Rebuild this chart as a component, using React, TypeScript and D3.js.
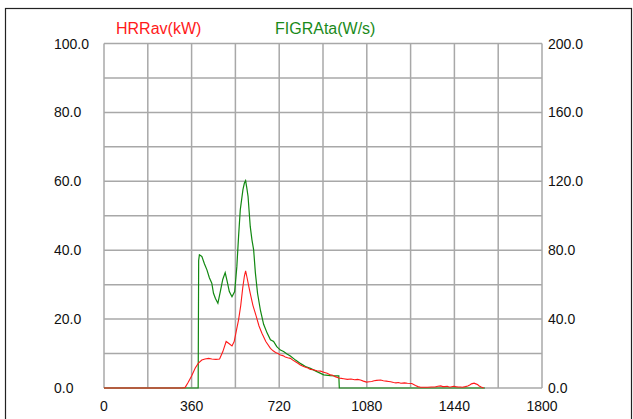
import React from "react";
import * as d3 from "d3";

const xTicks = [0, 360, 720, 1080, 1440, 1800];
const leftTicks = [0, 20, 40, 60, 80, 100];
const rightTicks = [0, 40, 80, 120, 160, 200];

const hrrTime = [0, 320, 333, 345, 360, 375, 388, 402, 415, 430, 443, 460, 475, 488, 502, 512, 526, 535, 545, 553, 562, 570, 577, 582, 588, 595, 601, 612, 626, 637, 649, 665, 684, 695, 705, 715, 725, 735, 745, 755, 766, 776, 787, 797, 807, 818, 828, 838, 848, 860, 875, 890, 903, 917, 931, 940, 950, 965, 975, 985, 1000, 1015, 1030, 1042, 1054, 1066, 1079, 1090, 1100, 1110, 1120, 1137, 1148, 1160, 1170, 1178, 1190, 1200, 1210, 1220, 1235, 1247, 1265, 1280, 1290, 1301, 1315, 1330, 1345, 1360, 1372, 1384, 1392, 1400, 1411, 1418, 1425, 1437, 1445, 1455, 1465, 1473, 1485, 1495, 1503, 1510, 1521, 1528, 1535, 1542, 1550, 1560];
const hrrValue = [0, 0, 0.1, 1.5, 3.5, 5.8, 7.2, 8.1, 8.4, 8.6, 8.4, 8.3, 8.4, 10.5, 13.5, 13.0, 12.2, 13.5, 17, 19.8, 24, 29, 32.5, 34.0, 32, 29.5, 27.5, 24, 20.7, 18, 15.9, 13.5, 11.5, 10.8, 10.3, 10.0, 9.6, 9.4, 9.0, 8.8, 8.6, 8.1, 7.6, 7.2, 6.7, 6.3, 6.0, 5.8, 5.4, 5.3, 5.0, 4.9, 4.6, 4.3, 3.8, 3.7, 3.3, 2.9, 2.8, 2.7, 2.5, 2.6, 2.4, 2.5, 2.3, 2.0, 1.7, 1.8, 1.9, 2.1, 2.2, 2.3, 2.1, 2.0, 1.9, 1.8, 1.6, 1.5, 1.6, 1.4, 1.5, 1.4, 1.3, 0.7, 0.4, 0.2, 0.2, 0.2, 0.3, 0.3, 0.5, 0.6, 0.4, 0.4, 0.5, 0.3, 0.3, 0.5, 0.4, 0.3, 0.3, 0.2, 0.4, 0.6, 0.9, 1.2, 1.4, 1.2, 1.0, 0.6, 0.3, 0];

const figraTime = [0, 387, 389, 392, 402, 413, 423, 433, 443, 450, 458, 468, 478, 488, 498, 506, 515, 526, 537, 546, 553, 560, 571, 577, 582, 587, 592, 601, 608, 615, 622, 631, 643, 656, 670, 684, 697, 710, 725, 738, 752, 766, 787, 810, 828, 848, 875, 903, 930, 958, 965, 967, 1566];
const figraValue = [0, 0, 74, 77.3, 76.4, 72, 68.6, 64, 60.8, 55, 52, 49.2, 56, 63, 67, 62, 56, 53, 56, 70.6, 88, 103.4, 115.2, 119, 120.4, 116, 111.2, 93.8, 86, 80.2, 67, 55, 45, 37, 32, 28, 27, 24, 22, 21.2, 19.8, 18.6, 16.2, 14, 12.5, 11.4, 9.5, 7.6, 7.2, 7.0, 7.0, 0, 0];

const W = 633;
const H = 419;
const left = 104;
const right = 542;
const top = 43.5;
const bottom = 388;

export default function App() {
  const x = d3.scaleLinear().domain([0, 1800]).range([left, right]);
  const yL = d3.scaleLinear().domain([0, 100]).range([bottom, top]);
  const yR = d3.scaleLinear().domain([0, 200]).range([bottom, top]);

  const hrrData = hrrTime.map((t, i) => [t, hrrValue[i]] as [number, number]);
  const figraData = figraTime.map((t, i) => [t, figraValue[i]] as [number, number]);

  const hrrLine = d3.line<[number, number]>().x((d) => x(d[0])).y((d) => yL(d[1]));
  const figraLine = d3.line<[number, number]>().x((d) => x(d[0])).y((d) => yR(d[1]));

  const vGrid = d3.range(0, 1801, 180);
  const hGrid = d3.range(0, 101, 10);
  const font = "Liberation Sans, Arial, sans-serif";

  return (
    <svg width={W} height={H} style={{ position: "absolute", left: 0, top: 0, background: "#fff" }}>
      <rect x={5.5} y={8.5} width={626} height={420} fill="#fff" stroke="#222" strokeWidth={1.2} />
      {vGrid.map((v) => (
        <line key={"v" + v} x1={x(v)} x2={x(v)} y1={top} y2={bottom} stroke="#a8a8a8" strokeWidth={1.5} />
      ))}
      {hGrid.map((v) => (
        <line key={"h" + v} x1={left} x2={right} y1={yL(v)} y2={yL(v)} stroke="#a8a8a8" strokeWidth={1.5} />
      ))}
      <path d={figraLine(figraData) || ""} fill="none" stroke="#118811" strokeWidth={1.2} />
      <path d={hrrLine(hrrData) || ""} fill="none" stroke="#ff1a1a" strokeWidth={1.1} />
      {leftTicks.map((v) => (
        <text key={"l" + v} x={54} y={yL(v) + 5} fontFamily={font} fontSize={14} fill="#111">
          {v.toFixed(1)}
        </text>
      ))}
      {rightTicks.map((v) => (
        <text key={"r" + v} x={548} y={yR(v) + 5} fontFamily={font} fontSize={14} fill="#111">
          {v.toFixed(1)}
        </text>
      ))}
      {xTicks.map((v) => (
        <text key={"x" + v} x={x(v)} y={411} textAnchor="middle" fontFamily={font} fontSize={14} fill="#111">
          {v}
        </text>
      ))}
      <text x={116} y={34} fontFamily={font} fontSize={16} fill="#ff1a1a">HRRav(kW)</text>
      <text x={275} y={34} fontFamily={font} fontSize={16} fill="#1a8a1a">FIGRAta(W/s)</text>
    </svg>
  );
}
